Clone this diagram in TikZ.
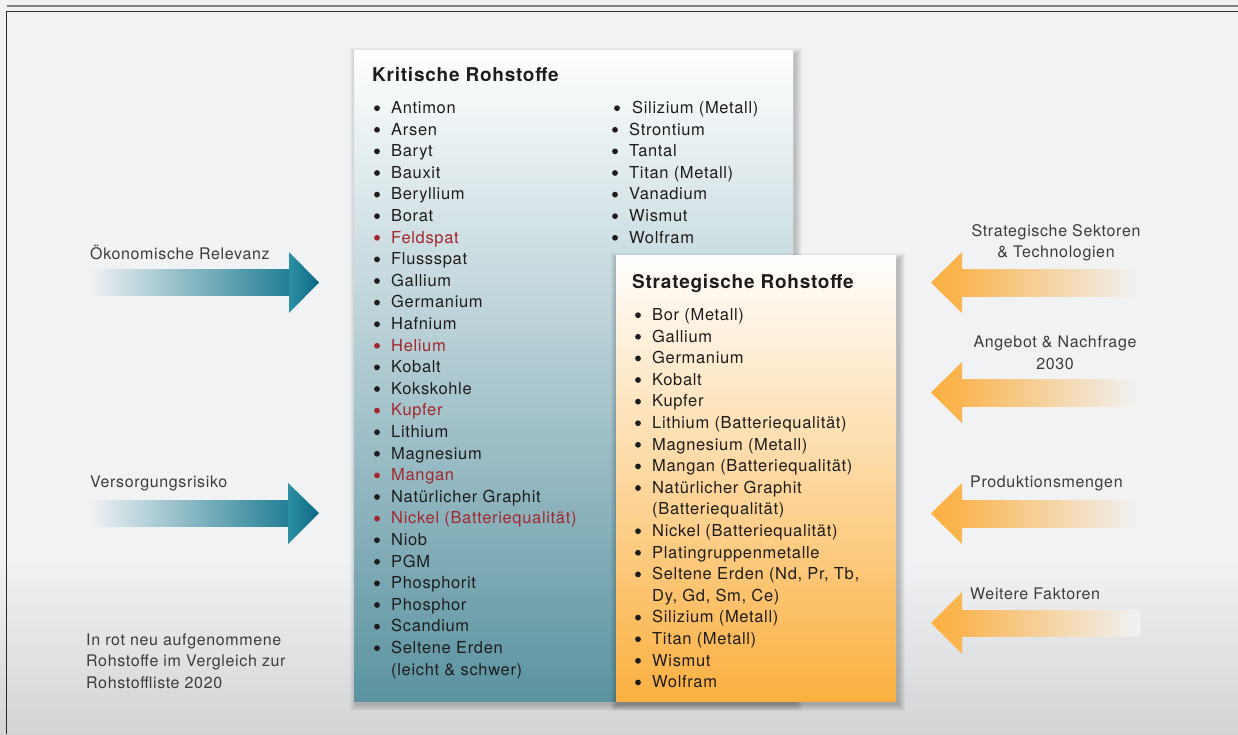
\documentclass[tikz,border=0pt]{standalone}
\usepackage{fontspec}
\setmainfont[LetterSpace=4]{TeX Gyre Heros}
\definecolor{bg}{HTML}{F1F2F4}
\definecolor{bgd}{HTML}{D3D4D6}
\definecolor{txtc}{HTML}{1F1C1D}
\definecolor{lblc}{HTML}{3C3C3C}
\definecolor{redc}{HTML}{A3272D}
\definecolor{tealbot}{HTML}{5B93A1}
\definecolor{orbot}{HTML}{FBB040}
\definecolor{teal1}{HTML}{2D90A5}
\definecolor{teal2}{HTML}{0B6781}
\definecolor{tealshaft}{HTML}{1F7D94}
\definecolor{or1}{HTML}{FBB040}
\definecolor{or2}{HTML}{FAB552}
\definecolor{frameA}{HTML}{808080}
\definecolor{frameB}{HTML}{2B2B2B}
\newcommand\litem[5][txtc]{%
  \node[bul,fill=#1] (#4b) at (#2-14,#3-5.3) {};
  \node[txt,text=#1] (#4) at (#2,#3) {#5};}
\begin{document}
\begin{tikzpicture}[x=1pt,y=-1pt,
  txt/.style={anchor=base west,inner sep=0pt,font=\fontsize{16.5}{20}\selectfont,text=txtc},
  bul/.style={circle,inner sep=0pt,minimum size=5.8pt,fill=txtc},
  ttl/.style={anchor=base west,inner sep=0pt,font=\fontsize{19}{22}\selectfont\bfseries,text=txtc},
  lbl/.style={inner sep=0pt,font=\fontsize{16}{21.5}\selectfont,text=lblc},
  tshaft/.style={left color=bg,right color=tealshaft},
  thead/.style={left color=teal1,right color=teal2},
  oshaft/.style={left color=or2,right color=bg},
  ohead/.style={left color=or1,right color=or2}]
\useasboundingbox (0,0) rectangle (1238,734);
% background
\fill[bg] (0,0) rectangle (1238,561);
\shade[top color=bg,bottom color=bgd] (0,560) rectangle (1238,734);
% frame
\draw[line width=1.2pt,frameA] (6.5,6) -- (1238,6);
\draw[line width=1.5pt,frameB] (6.5,734) -- (6.5,11.5) -- (1238,11.5);
% Kritische box
\foreach \s in {0,...,6}
  \fill[black,opacity=0.03] (354+2-\s,50+4-\s) rectangle (793+3+\s,701+4+\s);
\shade[top color=white,bottom color=tealbot] (354,50) rectangle (793,701);
% Strategische box
\foreach \s in {0,...,6}
  \fill[black,opacity=0.035] (616+1-\s,255+4-\s) rectangle (896+3+\s,701+4+\s);
\shade[top color=white,bottom color=orbot] (616,255) rectangle (896,701);
% left arrows
\shade[tshaft] (90,269) rectangle (292,295);
\shade[thead] (289,252) -- (319,282.5) -- (289,313) -- cycle;
\shade[tshaft] (90,500) rectangle (292,526);
\shade[thead] (288,483) -- (319,513) -- (288,544) -- cycle;
% right arrows
\shade[oshaft] (960,269) rectangle (1140,296);
\shade[ohead] (962,252) -- (931,282.5) -- (962,313) -- cycle;
\shade[oshaft] (960,379) rectangle (1140,406);
\shade[ohead] (962,362) -- (931,392.5) -- (962,423) -- cycle;
\shade[oshaft] (960,500) rectangle (1140,527);
\shade[ohead] (962,483) -- (931,513.5) -- (962,544) -- cycle;
\shade[oshaft] (960,610) rectangle (1140,636);
\shade[ohead] (962,592) -- (931,623) -- (962,654) -- cycle;
% side labels
\node[lbl,anchor=base west] (oek) at (90,259) {Ökonomische Relevanz};
\node[lbl,anchor=base west] (vers) at (90,487) {Versorgungsrisiko};
\node[lbl,anchor=base west,align=left] (note) at (86,688) {In rot neu aufgenommene\\Rohstoffe im Vergleich zur\\Rohstoffliste 2020};
\node[lbl,anchor=base,align=center] (sekt) at (1056,257.5) {Strategische Sektoren\\\& Technologien};
\node[lbl,anchor=base,align=center] (angeb) at (1055,369) {Angebot \& Nachfrage\\2030};
\node[lbl,anchor=base west] (prod) at (970,487) {Produktionsmengen};
\node[lbl,anchor=base west] (weit) at (970,599) {Weitere Faktoren};
% titles
\node[ttl] (kt) at (372,81.7) {Kritische Rohstoffe};
\node[ttl] (st) at (632,288.5) {Strategische Rohstoffe};
% Kritische column 1
\litem{391}{113.5}{k0}{Antimon}
\litem{391}{135.1}{k1}{Arsen}
\litem{391}{156.7}{k2}{Baryt}
\litem{391}{178.3}{k3}{Bauxit}
\litem{391}{199.9}{k4}{Beryllium}
\litem{391}{221.5}{k5}{Borat}
\litem[redc]{391}{243.1}{k6}{Feldspat}
\litem{391}{264.7}{k7}{Flussspat}
\litem{391}{286.3}{k8}{Gallium}
\litem{391}{307.9}{k9}{Germanium}
\litem{391}{329.5}{k10}{Hafnium}
\litem[redc]{391}{351.1}{k11}{Helium}
\litem{391}{372.7}{k12}{Kobalt}
\litem{391}{394.3}{k13}{Kokskohle}
\litem[redc]{391}{415.9}{k14}{Kupfer}
\litem{391}{437.5}{k15}{Lithium}
\litem{391}{459.1}{k16}{Magnesium}
\litem[redc]{391}{480.7}{k17}{Mangan}
\litem{391}{502.3}{k18}{Natürlicher Graphit}
\litem[redc]{391}{523.9}{k19}{Nickel (Batteriequalität)}
\litem{391}{545.5}{k20}{Niob}
\litem{391}{567.1}{k21}{PGM}
\litem{391}{588.7}{k22}{Phosphorit}
\litem{391}{610.3}{k23}{Phosphor}
\litem{391}{631.9}{k24}{Scandium}
\litem{391}{653.5}{k25}{Seltene Erden}
\node[txt] (k25c) at (391,675.1) {(leicht \& schwer)};
% Kritische column 2
\node[bul] (m0b) at (617,108.2) {};
\node[txt] (m0) at (632,113.5) {Silizium (Metall)};
\litem{629}{135.1}{m1}{Strontium}
\litem{629}{156.7}{m2}{Tantal}
\litem{629}{178.3}{m3}{Titan (Metall)}
\litem{629}{199.9}{m4}{Vanadium}
\litem{629}{221.5}{m5}{Wismut}
\litem{629}{243.1}{m6}{Wolfram}
% Strategische list
\litem{652}{320.5}{s0}{Bor (Metall)}
\litem{652}{342.1}{s1}{Gallium}
\litem{652}{363.7}{s2}{Germanium}
\litem{652}{385.3}{s3}{Kobalt}
\litem{652}{406.9}{s4}{Kupfer}
\litem{652}{428.5}{s5}{Lithium (Batteriequalität)}
\litem{652}{450.1}{s6}{Magnesium (Metall)}
\litem{652}{471.7}{s7}{Mangan (Batteriequalität)}
\litem{652}{493.3}{s8}{Natürlicher Graphit}
\node[txt] (s8c) at (652,514.9) {(Batteriequalität)};
\litem{652}{536.5}{s9}{Nickel (Batteriequalität)}
\litem{652}{558.1}{s10}{Platingruppenmetalle}
\litem{652}{579.7}{s11}{Seltene Erden (Nd, Pr, Tb,}
\node[txt] (s11c) at (652,601.3) {Dy, Gd, Sm, Ce)};
\litem{652}{622.9}{s12}{Silizium (Metall)}
\litem{652}{644.5}{s13}{Titan (Metall)}
\litem{652}{666.1}{s14}{Wismut}
\litem{652}{687.7}{s15}{Wolfram}
\end{tikzpicture}
\end{document}
